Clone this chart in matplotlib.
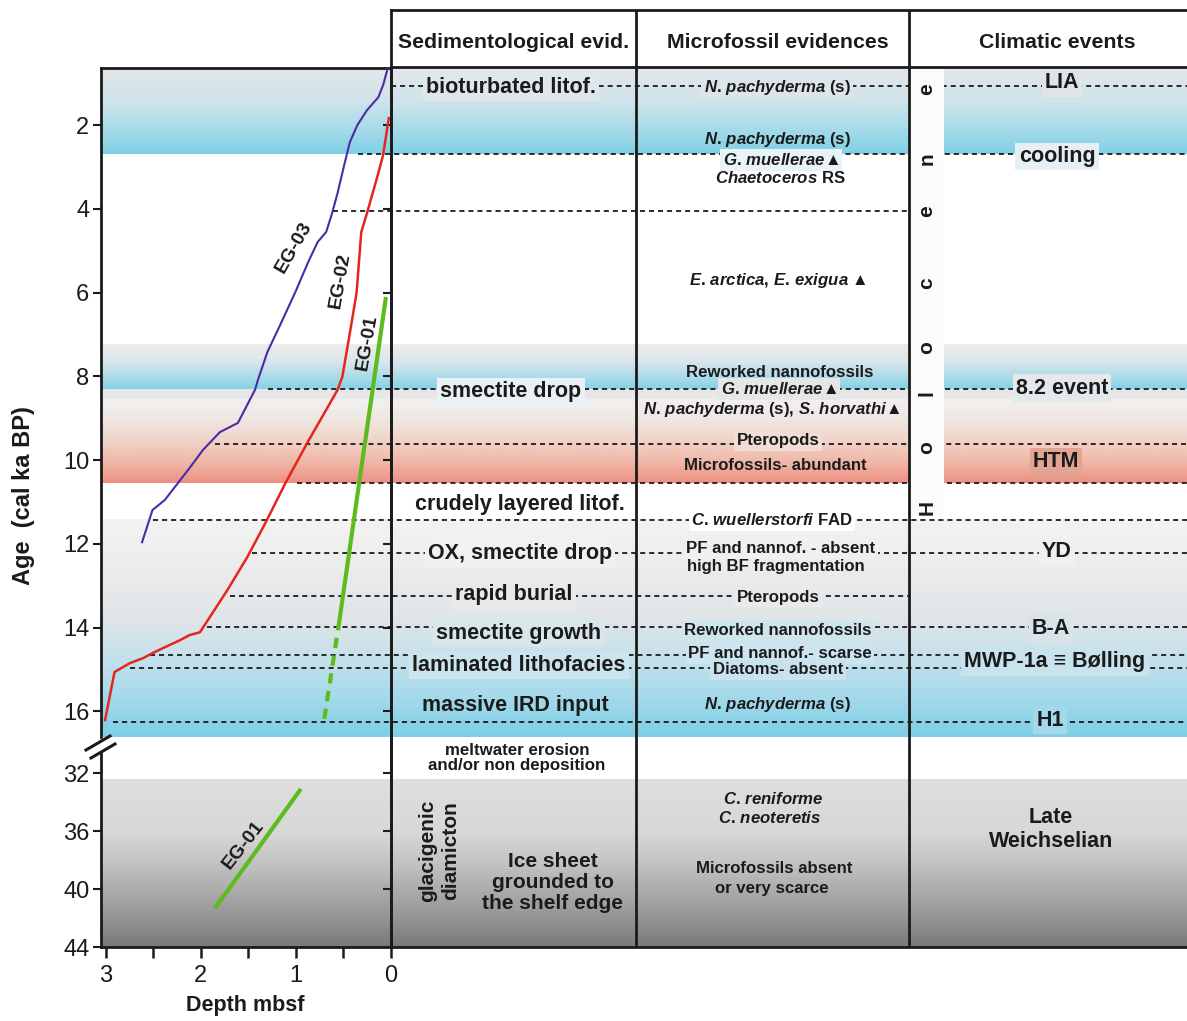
import numpy as np
import matplotlib
matplotlib.use("Agg")
import matplotlib.pyplot as plt
from matplotlib.colors import LinearSegmentedColormap
from matplotlib.lines import Line2D
from matplotlib.patches import Rectangle

plt.rcParams['font.family'] = ['Liberation Sans', 'DejaVu Sans']
plt.rcParams['mathtext.fontset'] = 'custom'
plt.rcParams['mathtext.rm'] = 'Liberation Sans:bold'
plt.rcParams['mathtext.it'] = 'Liberation Sans:italic:bold'
plt.rcParams['mathtext.bf'] = 'Liberation Sans:bold'
plt.rcParams['mathtext.fallback'] = 'stixsans'

# ---------------- age-depth models (depth in mbsf, age in cal ka BP) ----------------
eg03_depth = [0.03, 0.08, 0.13, 0.25, 0.35, 0.43, 0.49, 0.56, 0.62, 0.68, 0.77, 0.87,
              1.00, 1.14, 1.30, 1.40, 1.43, 1.61, 1.80, 1.98, 2.12, 2.38, 2.51, 2.62]
eg03_age = [0.63, 1.04, 1.33, 1.64, 1.99, 2.40, 2.95, 3.62, 4.12, 4.55, 4.79, 5.27,
            5.96, 6.65, 7.42, 8.09, 8.32, 9.11, 9.33, 9.76, 10.19, 10.95, 11.19, 11.96]

eg02_depth = [0.02, 0.08, 0.13, 0.25, 0.31, 0.36, 0.43, 0.51, 0.56, 0.62, 0.88, 1.11,
              1.32, 1.51, 1.72, 2.01, 2.12, 2.22, 2.40, 2.51, 2.61, 2.75, 2.91, 3.01]
eg02_age = [1.83, 2.71, 3.14, 4.10, 4.55, 6.01, 6.96, 8.01, 8.32, 8.56, 9.59, 10.55,
            11.50, 12.31, 13.10, 14.11, 14.18, 14.30, 14.49, 14.61, 14.73, 14.85, 15.06, 16.21]

eg01_depth = [0.05, 0.54]
eg01_age = [6.10, 13.82]
eg01_ext_depth = [0.54, 0.71]          # extrapolated part
eg01_ext_age = [13.82, 16.33]
eg01_deep_depth = [0.96, 1.84]         # glacial diamicton
eg01_deep_age = [33.2, 41.2]

# ---------------- event horizons ----------------
horizon_age = [1.06, 2.69, 4.04, 8.31, 9.62, 10.54, 11.43, 12.21, 13.24, 13.98, 14.66, 14.97, 16.25]
horizon_from_depth = [0.0, 0.345, 0.61, 1.29, 1.85, 0.99, 2.50, 1.46, 1.69, 1.94, 2.54, 2.75, 2.93]
horizon_full = [True, True, False, True, True, True, True, True, False, True, True, True, True]

# ---------------- column texts ----------------
sed_text = ["bioturbated litof.", "smectite drop", "crudely layered litof.", "OX, smectite drop",
            "rapid burial", "smectite growth", "laminated lithofacies", "massive IRD input"]
sed_age = [1.09, 8.37, 11.07, 12.22, 13.22, 14.13, 14.90, 15.87]


def taxon(genus, species):
    """Bold-italic binomial name as mathtext (no extra punctuation space)."""
    return r"$\mathit{%s.}\!$ $\mathit{%s}$" % (genus, species)


NPACHY = taxon("N", "pachyderma") + " (s)"
micro_text = [NPACHY, NPACHY,
              taxon("G", "muellerae") + "▲", r"$\mathit{Chaetoceros}$ RS",
              taxon("E", "arctica") + ", " + taxon("E", "exigua") + " ▲",
              "Reworked nannofossils",
              taxon("G", "muellerae") + "▲",
              NPACHY + ", " + taxon("S", "horvathi") + "▲",
              "Pteropods", "Microfossils- abundant", taxon("C", "wuellerstorfi") + " FAD",
              "PF and nannof. - absent", "high BF fragmentation", "Pteropods",
              "Reworked nannofossils", "PF and nannof.- scarse", "Diatoms- absent",
              NPACHY]
micro_age = [1.09, 2.35, 2.83, 3.26, 5.72, 7.90, 8.30, 8.80, 9.54, 10.12, 11.43,
             12.12, 12.55, 13.27, 14.08, 14.63, 15.01, 15.83]

climate_text = ["LIA", "cooling", "8.2 event", "HTM", "YD", "B-A", "MWP-1a ≡ Bølling", "H1"]
climate_age = [0.99, 2.74, 8.28, 10.04, 12.17, 14.03, 14.82, 16.21]

holocene_letters = ["H", "o", "l", "o", "c", "e", "n", "e"]
holocene_age = [11.14, 9.69, 8.40, 7.30, 5.77, 4.05, 2.81, 1.13]

up_yticks = [2, 4, 6, 8, 10, 12, 14, 16]
lo_yticks = [32, 36, 40, 44]
depth_ticks = [3, 2.5, 2, 1.5, 1, 0.5, 0]
depth_ticklabels = ["3", "", "2", "", "1", "", "0"]

# ---------------- layout (pixels) ----------------
W, H = 1187, 1021
X_SPINE, X_C1, X_C2, X_C3, X_HOLO, X_END = 100.5, 390.7, 636, 909, 944, 1187
Y_HEAD, Y_TOP, Y_BRK, Y_BOT = 10, 67.5, 737.3, 947.3
UP_LIM = (16.62, 0.62)
LO_LIM = (44.0, 29.52)
DEPTH_LIM = (3.058, 0.0)

sed_x = [511, 511, 520, 520, 514, 519, 519, 515]
sed_box = ['#dfe7eb', '#e9f1f4', None, '#f1f1f1', '#e7e9ea', '#d8e5eb', '#cbe4ee', None]
micro_x = [777, 777, 781, 780, 778, 780, 779, 772, 778, 775, 772, 781, 776, 778, 778, 780, 778, 777]
micro_box = ['#dce5e9', None, '#e8f3f7', None, None, None, '#e6e6e6', None, '#f2dcd3', None, '#ffffff',
             '#f0f0f0', None, '#e7e9ea', '#cfe5ee', '#cde5ee', '#c8e3ee', None]
climate_x = [1062, 1057, 1062, 1056, 1057, 1051, 1055, 1050]
climate_box = ['#dde5e9', '#e6f0f4', '#e5e8ea', '#e3a493', '#f0f0f0', '#d9e4ea', '#c9e3ee', '#a3d9ea']

INK = '#1b1b1b'
LW_FRAME = 2.0


def rect(x0, y0, x1, y1):
    return [x0 / W, 1 - y1 / H, (x1 - x0) / W, (y1 - y0) / H]


fig = plt.figure(figsize=(W / 100, H / 100), dpi=100)
fig.patch.set_facecolor('white')

bg_up = fig.add_axes(rect(X_SPINE, Y_TOP, X_END, Y_BRK), zorder=0)
bg_lo = fig.add_axes(rect(X_SPINE, Y_BRK, X_END, Y_BOT), zorder=0)
ax_up = fig.add_axes(rect(X_SPINE, Y_TOP, X_C1, Y_BRK), zorder=2)
ax_lo = fig.add_axes(rect(X_SPINE, Y_BRK, X_C1, Y_BOT), zorder=2)
head = fig.add_axes(rect(X_C1, Y_HEAD, X_END, Y_TOP), zorder=1)


def set_limits():
    for bg, lim in ((bg_up, UP_LIM), (bg_lo, LO_LIM)):
        bg.set_xlim(X_SPINE, X_END)
        bg.set_ylim(*lim)
    ax_up.set_xlim(*DEPTH_LIM)
    ax_up.set_ylim(*UP_LIM)
    ax_lo.set_xlim(*DEPTH_LIM)
    ax_lo.set_ylim(*LO_LIM)


set_limits()


def gradient_band(ax, x0, x1, a_top, a_bot, stops, z=0.5):
    cmap = LinearSegmentedColormap.from_list('band', stops)
    grad = np.linspace(0, 1, 256).reshape(-1, 1)
    ax.imshow(grad, cmap=cmap, aspect='auto', origin='upper',
              extent=(x0, x1, a_bot, a_top), interpolation='bilinear', zorder=z)


# background shading of the climate intervals
gradient_band(bg_up, X_SPINE, X_END, 0.62, 2.68,
              [(0, '#e5e7e9'), (0.4, '#cfe3eb'), (0.7, '#a9dbea'), (1, '#7ed0e6')])
gradient_band(bg_up, X_SPINE, X_END, 7.25, 8.31,
              [(0, '#ededed'), (0.4, '#d9e6eb'), (1, '#86d2e8')])
gradient_band(bg_up, X_SPINE, X_END, 8.31, 8.54,
              [(0, '#e6e6e6'), (1, '#e9e9e9')])
gradient_band(bg_up, X_SPINE, X_END, 8.54, 10.54,
              [(0, '#f1f1f1'), (0.25, '#efe6e2'), (0.5, '#f0d3c8'), (0.75, '#f0b7a8'), (1, '#ed9082')])
gradient_band(bg_up, X_SPINE, X_END, 11.43, 16.62,
              [(0, '#f3f3f3'), (0.19, '#ededed'), (0.46, '#e0e5e8'), (0.65, '#c3e1ec'),
               (0.83, '#a2d9ea'), (1, '#7dcfe6')])
gradient_band(bg_lo, X_SPINE, X_END, 32.46, 44.0,
              [(0, '#dedede'), (0.31, '#d8d8d8'), (0.48, '#c6c6c6'), (0.66, '#acacac'),
               (0.84, '#939393'), (1, '#787878')])

set_limits()

# Holocene strip in the climatic column
bg_up.add_patch(Rectangle((X_C3, 0.62), X_HOLO - X_C3, 11.33 - 0.62,
                          facecolor='#fbfbfb', edgecolor='none', zorder=2.5))


def depth_to_px(d):
    disp = ax_up.transData.transform((d, 1.0))
    return bg_up.transData.inverted().transform(disp)[0]


for a, d, full in zip(horizon_age, horizon_from_depth, horizon_full):
    x0 = depth_to_px(d)
    x1 = X_END if full else X_C3
    bg_up.plot([x0, x1], [a, a], color=INK, lw=1.3, ls=(0, (2.8, 2.2)), zorder=2)

# column dividers
for bg in (bg_up, bg_lo):
    for xc in (X_C2, X_C3):
        bg.axvline(xc, color=INK, lw=LW_FRAME, zorder=5)
    bg.set_xticks([])
    bg.set_yticks([])
    for sp in bg.spines.values():
        sp.set_visible(False)
bg_lo.plot([X_C1, X_END], [44, 44], color=INK, lw=LW_FRAME, clip_on=False, zorder=6)

# header row
head.set_xlim(X_C1, X_END)
head.set_ylim(0, 1)
head.set_xticks([])
head.set_yticks([])
head.spines['right'].set_visible(False)
for k in ('top', 'bottom', 'left'):
    head.spines[k].set_linewidth(LW_FRAME)
    head.spines[k].set_color(INK)
for xc in (X_C2, X_C3):
    head.axvline(xc, color=INK, lw=LW_FRAME)
hy = 1 - (42.5 - Y_HEAD) / (Y_TOP - Y_HEAD)
head.text(514, hy, "Sedimentological evid.", ha='center', va='center', fontsize=15.3, weight='bold', color=INK)
head.text(778, hy, "Microfossil evidences", ha='center', va='center', fontsize=15.3, weight='bold', color=INK)
head.text(1057, hy, "Climatic events", ha='center', va='center', fontsize=15.3, weight='bold', color=INK)


def label(ax, x, y, s, size, box=None, **kw):
    bbox = None
    if box is not None:
        bbox = dict(boxstyle='square,pad=0.15', facecolor=box, edgecolor='none')
    ax.text(x, y, s, ha='center', va='center', fontsize=size, weight='bold', color=INK,
            bbox=bbox, zorder=3, **kw)


for s, a, x, b in zip(sed_text, sed_age, sed_x, sed_box):
    label(bg_up, x, a, s, 15.5, b)
for s, a, x, b in zip(micro_text, micro_age, micro_x, micro_box):
    label(bg_up, x, a, s, 12.1, b)
for s, a, x, b in zip(climate_text, climate_age, climate_x, climate_box):
    label(bg_up, x, a, s, 15.5, b)
for s, a in zip(holocene_letters, holocene_age):
    label(bg_up, 927, a, s, 15, None, rotation=90)

# lower (glacial) section texts
label(bg_lo, 517, 30.94, "meltwater erosion\nand/or non deposition", 12.2, None, linespacing=0.95)
label(bg_lo, 439, 37.36, "glacigenic\ndiamicton", 15, None, rotation=90, linespacing=1.3)
label(bg_lo, 553, 39.53, "Ice sheet\ngrounded to\nthe shelf edge", 15, None, linespacing=1.12)
label(bg_lo, 773, 33.8, taxon("C", "reniforme"), 12.1)
label(bg_lo, 770, 35.1, taxon("C", "neoteretis"), 12.1)
label(bg_lo, 774, 38.6, "Microfossils absent", 12.1)
label(bg_lo, 772, 39.97, "or very scarce", 12.1)
label(bg_lo, 1051, 35.9, "Late\nWeichselian", 15.5, None, linespacing=1.2)

# ---------------- age-depth curves ----------------
ax_up.plot(eg03_depth, eg03_age, color='#4a2ca2', lw=1.5, zorder=3)
ax_up.plot(eg02_depth, eg02_age, color='#e4261c', lw=1.8, zorder=3)
ax_up.plot(eg01_depth, eg01_age, color='#5dbb1e', lw=3.0, solid_capstyle='butt', zorder=3)
ax_up.plot(eg01_ext_depth, eg01_ext_age, color='#5dbb1e', lw=3.0, ls=(0, (2.5, 1.8)), zorder=3)
ax_lo.plot(eg01_deep_depth, eg01_deep_age, color='#5dbb1e', lw=3.0, zorder=3)

ax_up.text(1.02, 4.91, "EG-03", rotation=60, ha='center', va='center', rotation_mode='anchor',
           fontsize=14, weight='bold', color=INK)
ax_up.text(0.53, 5.70, "EG-02", rotation=80, ha='center', va='center', rotation_mode='anchor',
           fontsize=14, weight='bold', color=INK)
ax_up.text(0.25, 7.20, "EG-01", rotation=80, ha='center', va='center', rotation_mode='anchor',
           fontsize=14, weight='bold', color=INK)
ax_lo.text(1.55, 36.94, "EG-01", rotation=52, ha='center', va='center', rotation_mode='anchor',
           fontsize=14, weight='bold', color=INK)

# ---------------- axes styling ----------------
for ax, yt in ((ax_up, up_yticks), (ax_lo, lo_yticks)):
    ax.set_facecolor('none')
    for sp in ax.spines.values():
        sp.set_linewidth(LW_FRAME)
        sp.set_color(INK)
    ax.set_yticks(yt)
    ax.tick_params(axis='y', direction='out', length=6, width=1.5, labelsize=17, pad=2,
                   colors=INK, left=True, right=False)
    sec = ax.secondary_yaxis('right')
    sec.set_yticks([t for t in yt if t != 44])
    sec.tick_params(direction='in', length=6, width=1.5, labelright=False, colors=INK)
    sec.spines['right'].set_linewidth(LW_FRAME)
    sec.spines['right'].set_color(INK)

ax_up.spines['bottom'].set_visible(False)
ax_up.tick_params(axis='x', bottom=False, labelbottom=False)
ax_lo.spines['top'].set_visible(False)
ax_lo.spines['left'].set_bounds(30.7, 44)
ax_lo.set_xticks(depth_ticks, depth_ticklabels)
ax_lo.tick_params(axis='x', direction='out', length=8, width=1.8, labelsize=17, pad=5, colors=INK)

set_limits()

# axis break marks on the age axis
for (x0, y0, x1, y1) in ((86, 750, 110, 736), (91, 758, 115, 744)):
    fig.add_artist(Line2D([x0 / W, x1 / W], [1 - y0 / H, 1 - y1 / H], color=INK, lw=2.2,
                          transform=fig.transFigure))

fig.text(24 / W, 1 - 496 / H, "Age  (cal ka BP)", rotation=90, ha='center', va='center',
         fontsize=17, weight='bold', color=INK)
fig.text(245 / W, 1 - 1005 / H, "Depth mbsf", ha='center', va='center',
         fontsize=15.5, weight='bold', color=INK)

fig.savefig('out.png', dpi=100, facecolor='white')
